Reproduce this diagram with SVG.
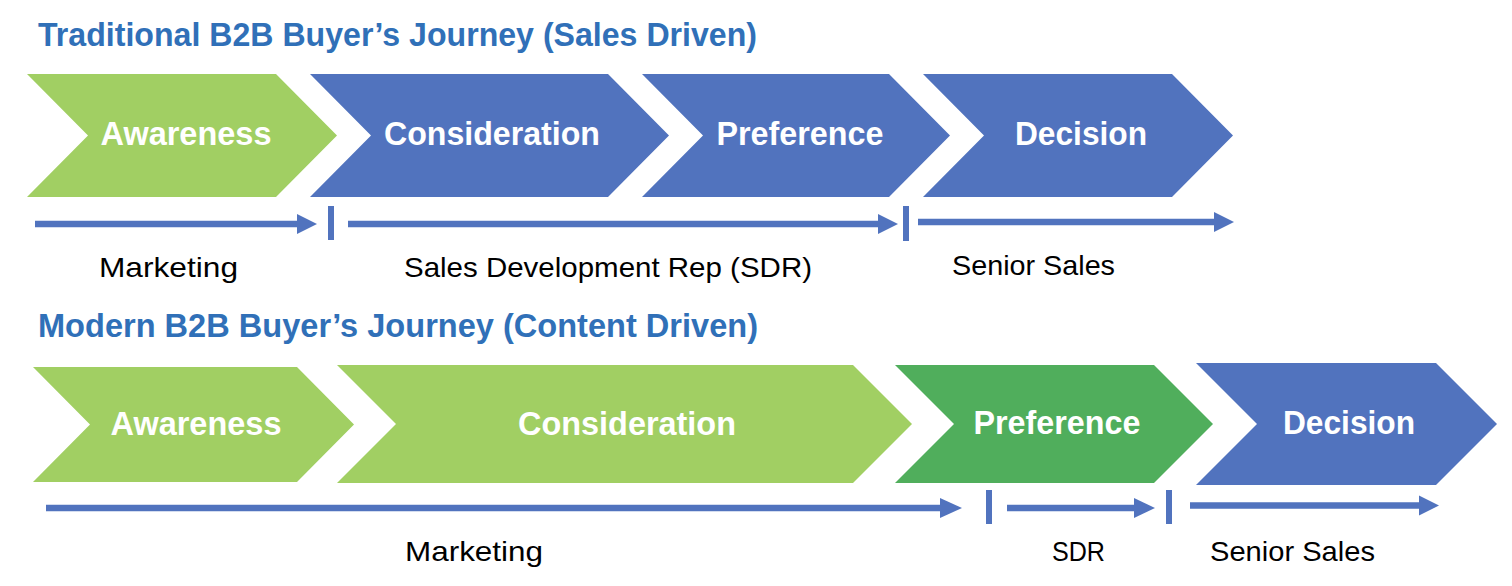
<svg xmlns="http://www.w3.org/2000/svg" width="1512" height="586" viewBox="0 0 1512 586">
<style>
.title{font-family:"Liberation Sans",Arial,sans-serif;font-weight:bold;font-size:33px;fill:#3070B8}
.lbl{font-family:"Liberation Sans",Arial,sans-serif;font-weight:bold;font-size:33px;fill:#ffffff;text-anchor:middle}
.cap{font-family:"Liberation Sans",Arial,sans-serif;font-size:28px;fill:#000000}
.lg{fill:#A1CF63}
.bl{fill:#5173BE}
.dg{fill:#50AE5C}
.ln{stroke:#5173BE;stroke-width:6.5;fill:none}
.hd{fill:#5173BE}
</style>
<rect width="1512" height="586" fill="#ffffff"/>
<text class="title" x="38" y="46" textLength="719" lengthAdjust="spacingAndGlyphs">Traditional B2B Buyer’s Journey (Sales Driven)</text>
<text class="title" x="38" y="337" textLength="720" lengthAdjust="spacingAndGlyphs">Modern B2B Buyer’s Journey (Content Driven)</text>

<g id="t-awareness">
<polygon class="lg" points="27,74 276,74 337,135.5 276,197 27,197 88,135.5"/>
<text class="lbl" x="186" y="145" textLength="171" lengthAdjust="spacingAndGlyphs">Awareness</text>
</g>
<g id="t-consideration">
<polygon class="bl" points="310,74 608,74 669,135.5 608,197 310,197 371,135.5"/>
<text class="lbl" x="492" y="145" textLength="216" lengthAdjust="spacingAndGlyphs">Consideration</text>
</g>
<g id="t-preference">
<polygon class="bl" points="642,74 889,74 950,135.5 889,197 642,197 703,135.5"/>
<text class="lbl" x="800" y="145" textLength="167" lengthAdjust="spacingAndGlyphs">Preference</text>
</g>
<g id="t-decision">
<polygon class="bl" points="923,74 1172,74 1233,135.5 1172,197 923,197 984,135.5"/>
<text class="lbl" x="1081" y="145" textLength="132" lengthAdjust="spacingAndGlyphs">Decision</text>
</g>

<g id="b-awareness">
<polygon class="lg" points="33,367 297,367 354,424.5 297,482 33,482 90,424.5"/>
<text class="lbl" x="196" y="435" textLength="171" lengthAdjust="spacingAndGlyphs">Awareness</text>
</g>
<g id="b-consideration">
<polygon class="lg" points="337,365 853,365 912,424 853,483 337,483 396,424"/>
<text class="lbl" x="627" y="435" textLength="218" lengthAdjust="spacingAndGlyphs">Consideration</text>
</g>
<g id="b-preference">
<polygon class="dg" points="895,365 1154,365 1213,424 1154,483 895,483 954,424"/>
<text class="lbl" x="1057" y="434" textLength="167" lengthAdjust="spacingAndGlyphs">Preference</text>
</g>
<g id="b-decision">
<polygon class="bl" points="1196,363 1436,363 1497,424 1436,485 1196,485 1257,424"/>
<text class="lbl" x="1349" y="434" textLength="132" lengthAdjust="spacingAndGlyphs">Decision</text>
</g>

<g id="connectors">
<line class="ln" x1="35" y1="224" x2="298" y2="224"/>
<polygon class="hd" points="297,214 317,224 297,234"/>
<rect class="hd" x="328" y="206" width="6" height="34"/>
<line class="ln" x1="348" y1="224" x2="880" y2="224"/>
<polygon class="hd" points="878,214 898,224 878,234"/>
<rect class="hd" x="903" y="206" width="6" height="35"/>
<line class="ln" x1="918" y1="222" x2="1215" y2="222"/>
<polygon class="hd" points="1214,212 1234,222 1214,232"/>

<line class="ln" x1="46" y1="508" x2="941" y2="508"/>
<polygon class="hd" points="940,498 962,508 940,518"/>
<rect class="hd" x="986" y="490" width="6" height="34"/>
<line class="ln" x1="1007" y1="508" x2="1135" y2="508"/>
<polygon class="hd" points="1134,498 1155,508 1134,518"/>
<rect class="hd" x="1166" y="490" width="6" height="34"/>
<line class="ln" x1="1190" y1="505.5" x2="1420" y2="505.5"/>
<polygon class="hd" points="1419,495.5 1439,505.5 1419,515.5"/>
</g>

<text class="cap" x="99" y="277" textLength="139" lengthAdjust="spacingAndGlyphs">Marketing</text>
<text class="cap" x="404" y="277" textLength="408" lengthAdjust="spacingAndGlyphs">Sales Development Rep (SDR)</text>
<text class="cap" x="952" y="275" textLength="163" lengthAdjust="spacingAndGlyphs">Senior Sales</text>
<text class="cap" x="405" y="561" textLength="138" lengthAdjust="spacingAndGlyphs">Marketing</text>
<text class="cap" x="1052" y="561" textLength="53" lengthAdjust="spacingAndGlyphs">SDR</text>
<text class="cap" x="1210" y="561" textLength="165" lengthAdjust="spacingAndGlyphs">Senior Sales</text>
</svg>
